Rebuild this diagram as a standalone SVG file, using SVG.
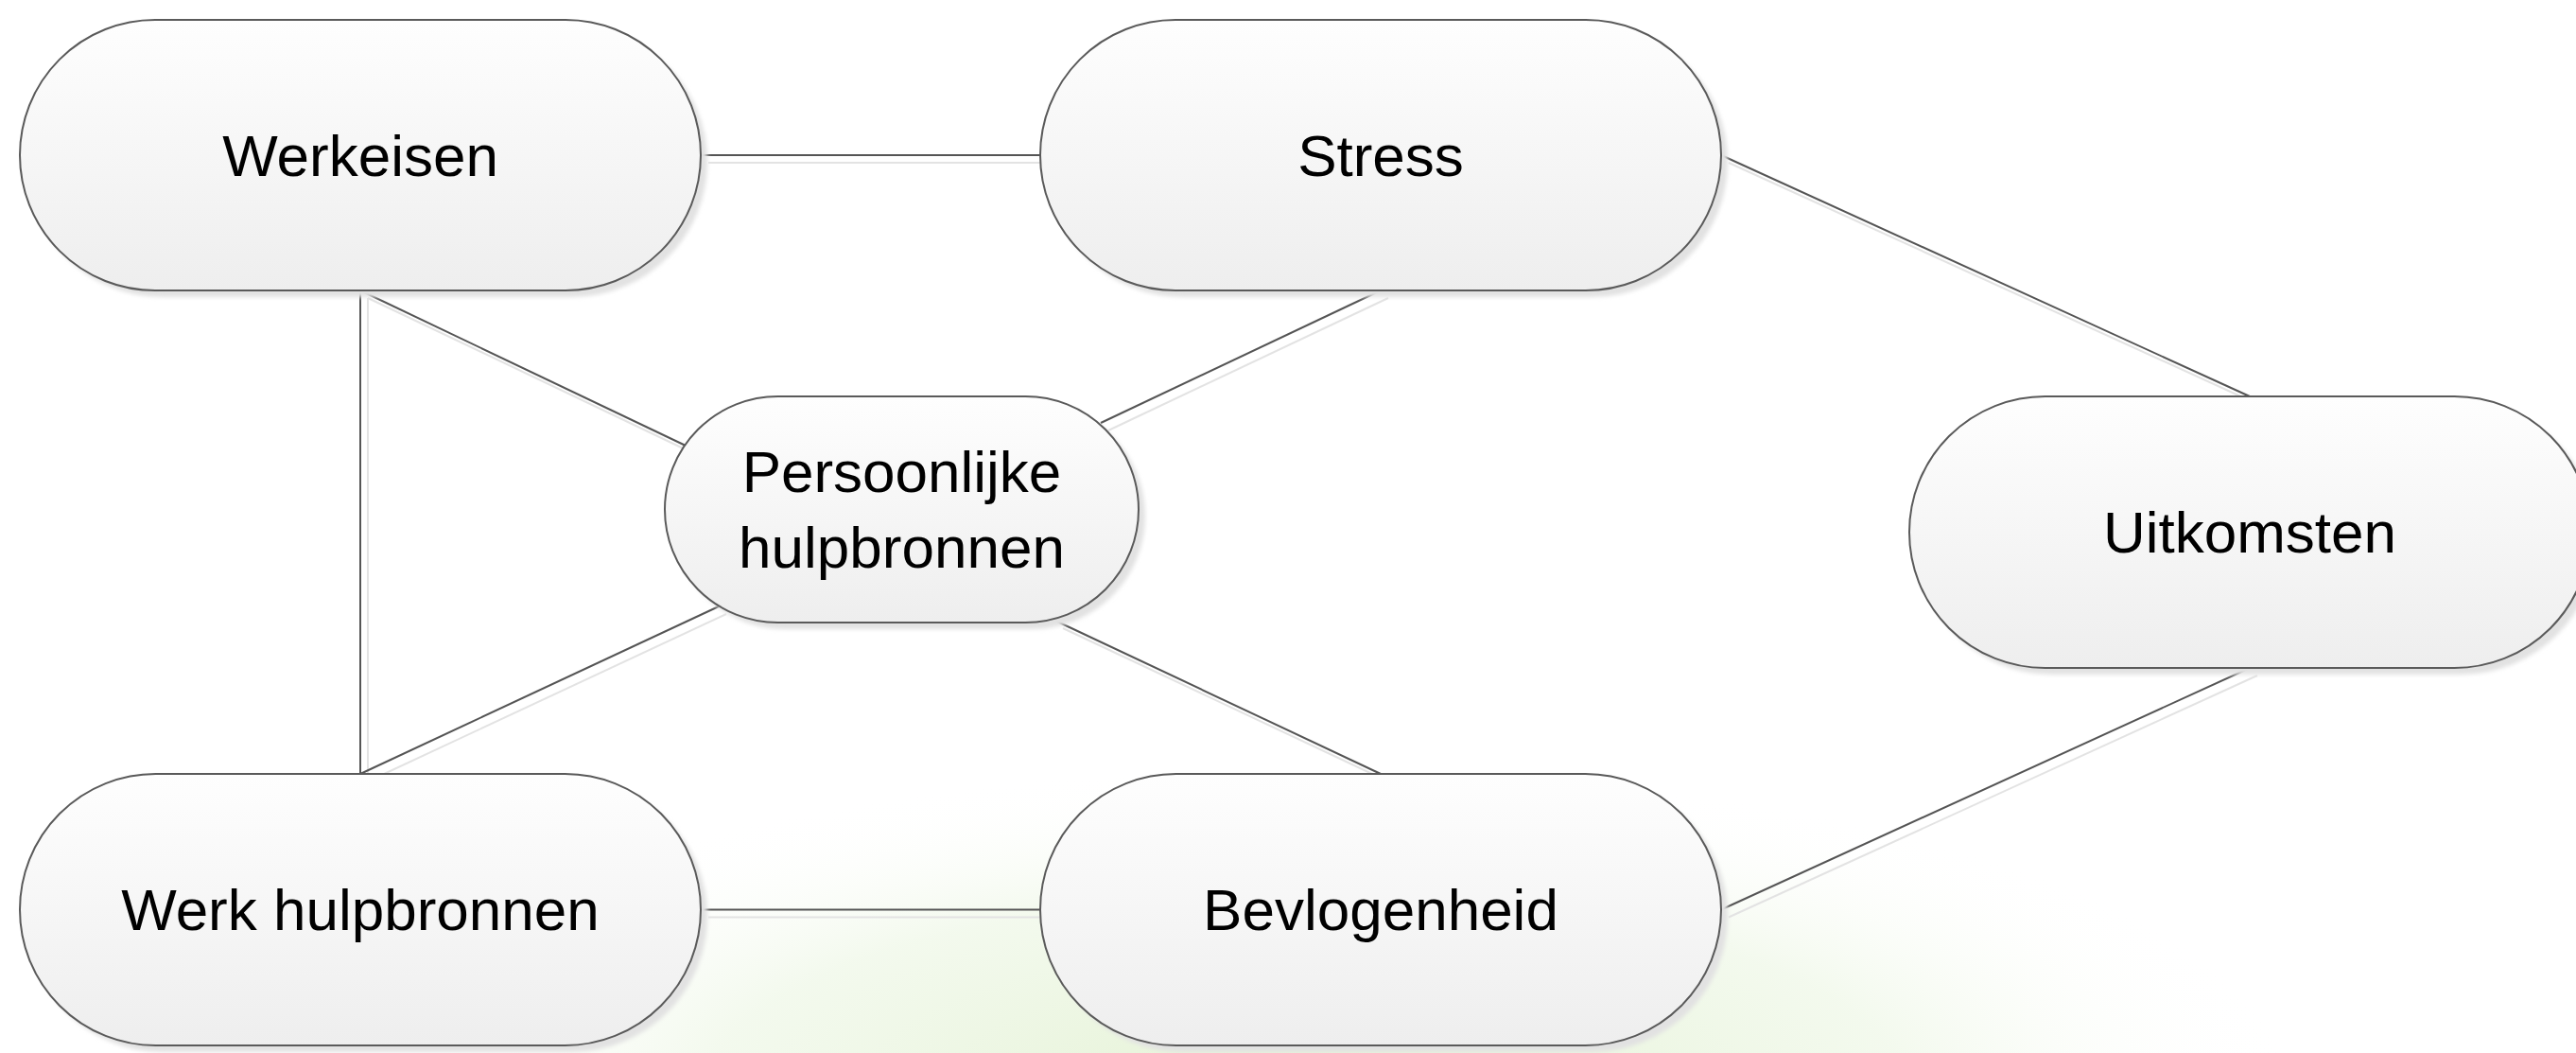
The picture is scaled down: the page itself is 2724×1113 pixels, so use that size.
<svg xmlns="http://www.w3.org/2000/svg" width="2724" height="1113" viewBox="0 0 2724 1113">
  <defs>
    <linearGradient id="fillGrad" x1="0" y1="0" x2="0" y2="1">
      <stop offset="0" stop-color="#fefefe"/>
      <stop offset="1" stop-color="#eeeeee"/>
    </linearGradient>
    <radialGradient id="glow" cx="0.5" cy="0.5" r="0.5">
      <stop offset="0" stop-color="#e4f2d4" stop-opacity="1"/>
      <stop offset="0.6" stop-color="#eef7e6" stop-opacity="0.7"/>
      <stop offset="1" stop-color="#ffffff" stop-opacity="0"/>
    </radialGradient>
    <filter id="soft" x="-5%" y="-5%" width="110%" height="110%">
      <feGaussianBlur stdDeviation="2"/>
    </filter>
  </defs>
  <style>
    .shape { fill: url(#fillGrad); stroke: #5a5a5a; stroke-width: 2; }
    .shadow { fill: #e2e2e2; filter: url(#soft); }
    .conn { stroke: #555555; stroke-width: 2; fill: none; }
    .connShadow { stroke: #e3e3e3; stroke-width: 2; fill: none; }
    .label { font-family: "Liberation Sans", Arial, sans-serif; font-size: 62px; fill: #000000; text-anchor: middle; }
  </style>
  <rect x="0" y="0" width="2724" height="1113" fill="#ffffff"/>
  <ellipse cx="1380" cy="1150" rx="1050" ry="340" fill="url(#glow)"/>

  <g id="connectors">
    <g transform="translate(8,8)">
      <line class="connShadow" x1="741" y1="164" x2="1100" y2="164"/>
      <line class="connShadow" x1="381" y1="307" x2="381" y2="818"/>
      <line class="connShadow" x1="381" y1="307" x2="725" y2="471"/>
      <line class="connShadow" x1="381" y1="818" x2="760" y2="641"/>
      <line class="connShadow" x1="1460" y1="307" x2="1164" y2="447"/>
      <line class="connShadow" x1="1116" y1="656" x2="1460" y2="818"/>
      <line class="connShadow" x1="1820" y1="164" x2="2379" y2="419"/>
      <line class="connShadow" x1="2379" y1="706" x2="1820" y2="961.5"/>
      <line class="connShadow" x1="741" y1="961.5" x2="1100" y2="961.5"/>
    </g>
    <line class="conn" x1="741" y1="164" x2="1100" y2="164"/>
    <line class="conn" x1="381" y1="307" x2="381" y2="818"/>
    <line class="conn" x1="381" y1="307" x2="725" y2="471"/>
    <line class="conn" x1="381" y1="818" x2="760" y2="641"/>
    <line class="conn" x1="1460" y1="307" x2="1164" y2="447"/>
    <line class="conn" x1="1116" y1="656" x2="1460" y2="818"/>
    <line class="conn" x1="1820" y1="164" x2="2379" y2="419"/>
    <line class="conn" x1="2379" y1="706" x2="1820" y2="961.5"/>
    <line class="conn" x1="741" y1="961.5" x2="1100" y2="961.5"/>
  </g>

  <g id="werkeisen">
    <rect class="shadow" x="28" y="28" width="720" height="286" rx="143" ry="143"/>
    <rect class="shape" x="21" y="21" width="720" height="286" rx="143" ry="143"/>
    <text class="label" x="381" y="186">Werkeisen</text>
  </g>

  <g id="stress">
    <rect class="shadow" x="1107" y="28" width="720" height="286" rx="143" ry="143"/>
    <rect class="shape" x="1100" y="21" width="720" height="286" rx="143" ry="143"/>
    <text class="label" x="1460" y="186">Stress</text>
  </g>

  <g id="persoonlijke-hulpbronnen">
    <rect class="shadow" x="710" y="426" width="501" height="239" rx="119.5" ry="119.5"/>
    <rect class="shape" x="703" y="419" width="501" height="239" rx="119.5" ry="119.5"/>
    <text class="label" x="953.5" y="520">Persoonlijke</text>
    <text class="label" x="953.5" y="600">hulpbronnen</text>
  </g>

  <g id="uitkomsten">
    <rect class="shadow" x="2026" y="426" width="720" height="287" rx="143.5" ry="143.5"/>
    <rect class="shape" x="2019" y="419" width="720" height="287" rx="143.5" ry="143.5"/>
    <text class="label" x="2379" y="584">Uitkomsten</text>
  </g>

  <g id="werk-hulpbronnen">
    <rect class="shadow" x="28" y="825" width="720" height="287" rx="143.5" ry="143.5"/>
    <rect class="shape" x="21" y="818" width="720" height="287" rx="143.5" ry="143.5"/>
    <text class="label" x="381" y="983">Werk hulpbronnen</text>
  </g>

  <g id="bevlogenheid">
    <rect class="shadow" x="1107" y="825" width="720" height="287" rx="143.5" ry="143.5"/>
    <rect class="shape" x="1100" y="818" width="720" height="287" rx="143.5" ry="143.5"/>
    <text class="label" x="1460" y="983">Bevlogenheid</text>
  </g>
</svg>
